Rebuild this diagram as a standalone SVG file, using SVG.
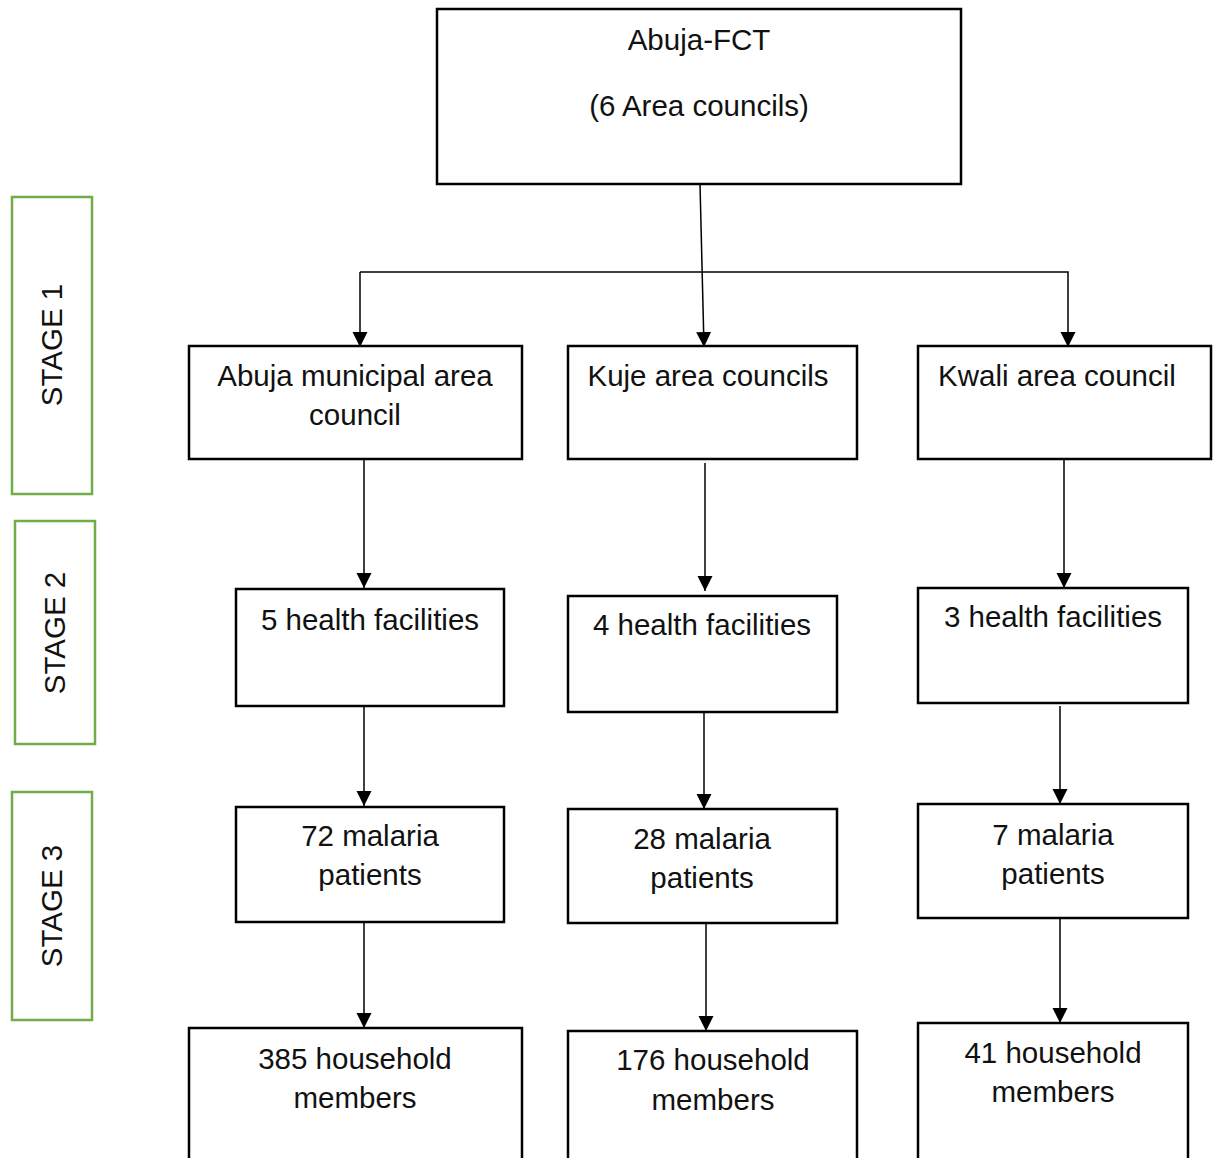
<svg xmlns="http://www.w3.org/2000/svg" width="1215" height="1158" viewBox="0 0 1215 1158">
<defs>
<marker id="arr" markerUnits="userSpaceOnUse" markerWidth="18" markerHeight="18" refX="15" refY="9" orient="auto" viewBox="0 0 18 18">
<path d="M0,1.5 L15,9 L0,16.5 Z" fill="#000"/>
</marker>
</defs>
<style>
.box{fill:#fff;stroke:#000;stroke-width:2.5}
.stage{fill:#fff;stroke:#70ad47;stroke-width:2.5}
text{font-family:"Liberation Sans",Arial,sans-serif;font-size:29.5px;fill:#111;text-anchor:middle}
.c{fill:none;stroke:#000;stroke-width:1.5}
</style>
<rect width="1215" height="1158" fill="#fff"/>
<g id="stage1"><rect class="stage" x="12" y="197" width="80" height="297"/><text transform="translate(62,345) rotate(-90)">STAGE 1</text></g>
<g id="stage2"><rect class="stage" x="15" y="521" width="80" height="223"/><text transform="translate(65,633) rotate(-90)">STAGE 2</text></g>
<g id="stage3"><rect class="stage" x="12" y="792" width="80" height="228"/><text transform="translate(62,906) rotate(-90)">STAGE 3</text></g>
<g id="connectors">
<line class="c" x1="700" y1="184" x2="704" y2="347" marker-end="url(#arr)"/>
<polyline class="c" points="360,272 1068,272 1068,347" marker-end="url(#arr)"/>
<line class="c" x1="360" y1="272" x2="360" y2="347" marker-end="url(#arr)"/>
<line class="c" x1="364" y1="459" x2="364" y2="588" marker-end="url(#arr)"/>
<line class="c" x1="364" y1="706" x2="364" y2="806" marker-end="url(#arr)"/>
<line class="c" x1="364" y1="922" x2="364" y2="1028" marker-end="url(#arr)"/>
<line class="c" x1="705" y1="463" x2="705" y2="591" marker-end="url(#arr)"/>
<line class="c" x1="704" y1="712" x2="704" y2="809" marker-end="url(#arr)"/>
<line class="c" x1="706" y1="923" x2="706" y2="1031" marker-end="url(#arr)"/>
<line class="c" x1="1064" y1="459" x2="1064" y2="588" marker-end="url(#arr)"/>
<line class="c" x1="1060" y1="706" x2="1060" y2="804" marker-end="url(#arr)"/>
<line class="c" x1="1060" y1="918" x2="1060" y2="1023" marker-end="url(#arr)"/>
</g>
<g id="fct"><rect class="box" x="437" y="9" width="524" height="175"/><text x="699" y="50">Abuja-FCT</text><text x="699" y="116">(6 Area councils)</text></g>
<g id="amac"><rect class="box" x="189" y="346" width="333" height="113"/><text x="355" y="386">Abuja municipal area</text><text x="355" y="425">council</text></g>
<g id="kuje"><rect class="box" x="568" y="346" width="289" height="113"/><text x="708" y="386">Kuje area councils</text></g>
<g id="kwali"><rect class="box" x="918" y="346" width="293" height="113"/><text x="1057" y="386">Kwali area council</text></g>
<g id="hf5"><rect class="box" x="236" y="589" width="268" height="117"/><text x="370" y="630">5 health facilities</text></g>
<g id="hf4"><rect class="box" x="568" y="596" width="269" height="116"/><text x="702" y="635">4 health facilities</text></g>
<g id="hf3"><rect class="box" x="918" y="588" width="270" height="115"/><text x="1053" y="627">3 health facilities</text></g>
<g id="mp72"><rect class="box" x="236" y="807" width="268" height="115"/><text x="370" y="846">72 malaria</text><text x="370" y="885">patients</text></g>
<g id="mp28"><rect class="box" x="568" y="809" width="269" height="114"/><text x="702" y="849">28 malaria</text><text x="702" y="888">patients</text></g>
<g id="mp7"><rect class="box" x="918" y="804" width="270" height="114"/><text x="1053" y="845">7 malaria</text><text x="1053" y="884">patients</text></g>
<g id="hh385"><rect class="box" x="189" y="1028" width="333" height="140"/><text x="355" y="1069">385 household</text><text x="355" y="1108">members</text></g>
<g id="hh176"><rect class="box" x="568" y="1031" width="289" height="140"/><text x="713" y="1070">176 household</text><text x="713" y="1110">members</text></g>
<g id="hh41"><rect class="box" x="918" y="1023" width="270" height="145"/><text x="1053" y="1063">41 household</text><text x="1053" y="1102">members</text></g>
</svg>
